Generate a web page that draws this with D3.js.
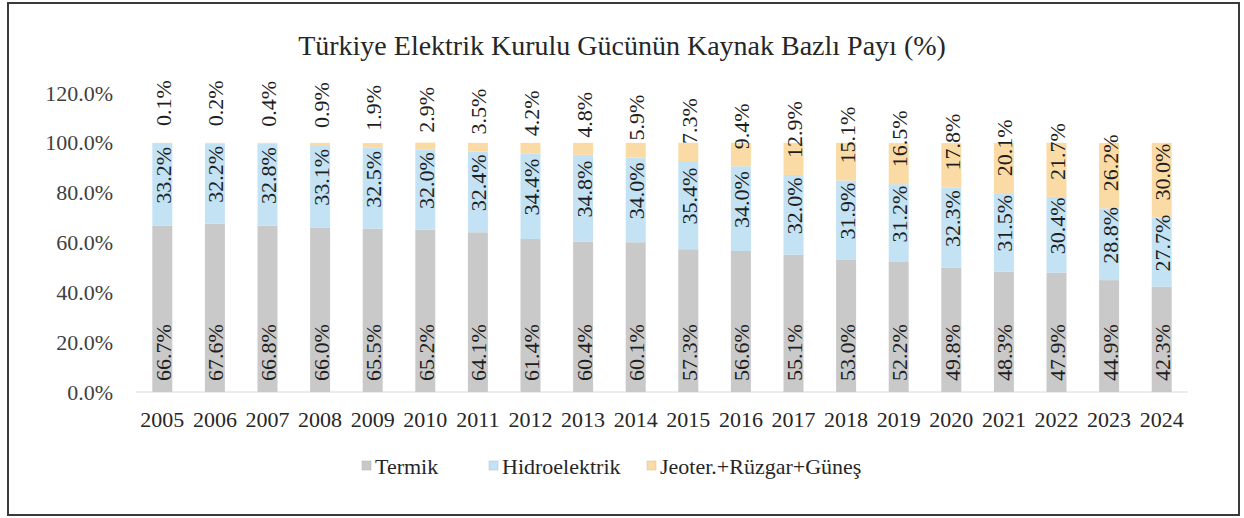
<!DOCTYPE html>
<html>
<head>
<meta charset="utf-8">
<script src="https://cdn.jsdelivr.net/npm/d3@7"></script>
<style>
  html, body { margin: 0; padding: 0; background: #fff; }
  svg { display: block; }
  text { font-family: "Liberation Serif", "Times New Roman", serif; }
</style>
</head>
<body>
<svg id="chart" width="1244" height="518"></svg>
<script>
const title = "Türkiye Elektrik Kurulu Gücünün Kaynak Bazlı Payı (%)";
const years = ["2005","2006","2007","2008","2009","2010","2011","2012","2013","2014","2015","2016","2017","2018","2019","2020","2021","2022","2023","2024"];
const termik = [66.7,67.6,66.8,66.0,65.5,65.2,64.1,61.4,60.4,60.1,57.3,56.6,55.1,53.0,52.2,49.8,48.3,47.9,44.9,42.3];
const hidro  = [33.2,32.2,32.8,33.1,32.5,32.0,32.4,34.4,34.8,34.0,35.4,34.0,32.0,31.9,31.2,32.3,31.5,30.4,28.8,27.7];
const yenilenebilir = [0.1,0.2,0.4,0.9,1.9,2.9,3.5,4.2,4.8,5.9,7.3,9.4,12.9,15.1,16.5,17.8,20.1,21.7,26.2,30.0];
const seriesNames = ["Termik","Hidroelektrik","Jeoter.+Rüzgar+Güneş"];
const yTicks = [0,20,40,60,80,100,120];

const colors = ["#c9c9c9", "#c3e2f4", "#fbdba5"];

const svg = d3.select("#chart");

// frame
svg.append("rect").attr("x", 8).attr("y", 3).attr("width", 1231).attr("height", 512)
  .attr("fill", "#fff").attr("stroke", "#3a3a3a").attr("stroke-width", 2);

// title
svg.append("text").attr("x", 622).attr("y", 45)
  .attr("text-anchor", "middle").attr("dominant-baseline", "central")
  .attr("font-size", 28).attr("fill", "#262626").text(title);

const x = d3.scaleBand().domain(years).range([136, 1188]).paddingInner(0.62).paddingOuter(0.31);
const y = d3.scaleLinear().domain([0, 120]).range([392, 93]);

const rows = years.map((yr, i) => ({ year: yr, Termik: termik[i], Hidroelektrik: hidro[i], "Jeoter.+Rüzgar+Güneş": yenilenebilir[i] }));
const stack = d3.stack().keys(seriesNames)(rows);

// y axis labels
const yAxis = d3.axisLeft(y).tickValues(yTicks).tickSize(0).tickPadding(0)
  .tickFormat(d => d.toFixed(1) + "%");
const gy = svg.append("g").attr("transform", "translate(113,0)").call(yAxis);
gy.select(".domain").remove();
gy.selectAll("text").attr("font-size", 22).attr("fill", "#404040")
  .attr("font-family", "Liberation Serif, Times New Roman, serif").attr("dy", "0.32em");

// baseline
svg.append("line").attr("x1", 136).attr("x2", 1188).attr("y1", y(0)).attr("y2", y(0))
  .attr("stroke", "#d9d9d9").attr("stroke-width", 1);

// x axis labels
const xAxis = d3.axisBottom(x).tickSize(0).tickPadding(0);
const gx = svg.append("g").attr("transform", "translate(0,420)").call(xAxis);
gx.select(".domain").remove();
gx.selectAll("text").attr("font-size", 22).attr("fill", "#262626")
  .attr("font-family", "Liberation Serif, Times New Roman, serif").attr("dy", "0.32em");

// bars
const layers = svg.append("g").selectAll("g").data(stack).join("g")
  .attr("fill", (d, i) => colors[i]);
layers.selectAll("rect").data(d => d).join("rect")
  .attr("x", d => x(d.data.year))
  .attr("width", x.bandwidth())
  .attr("y", d => y(d[1]))
  .attr("height", d => y(d[0]) - y(d[1]));

// data labels (rotated)
const fmt = v => v.toFixed(1) + "%";
stack.forEach((layer, si) => {
  svg.append("g").selectAll("text").data(layer).join("text")
    .attr("transform", d => {
      const cx = x(d.data.year) + x.bandwidth() / 2 + 1;
      let cy;
      if (si === 0) cy = y(d[0]) - 11;
      else if (si === 1) cy = (y(d[0]) + y(d[1])) / 2 - 9;
      else cy = y(d[0]) - 17;
      return `translate(${cx},${cy}) rotate(-90)`;
    })
    .attr("text-anchor", si === 1 ? "middle" : "start")
    .attr("dominant-baseline", "central")
    .attr("font-size", 22).attr("fill", "#1e1e1e")
    .text(d => fmt(d[1] - d[0]));
});

// legend
const legendX = [362, 489, 647];
const lg = svg.append("g");
seriesNames.forEach((name, i) => {
  lg.append("rect").attr("x", legendX[i]).attr("y", 461).attr("width", 9).attr("height", 9)
    .attr("fill", colors[i]).attr("stroke", d3.color(colors[i]).darker(0.4)).attr("stroke-width", 0.5);
  lg.append("text").attr("x", legendX[i] + 13).attr("y", 466)
    .attr("dominant-baseline", "central").attr("font-size", 22).attr("fill", "#262626").text(name);
});
</script>
</body>
</html>
